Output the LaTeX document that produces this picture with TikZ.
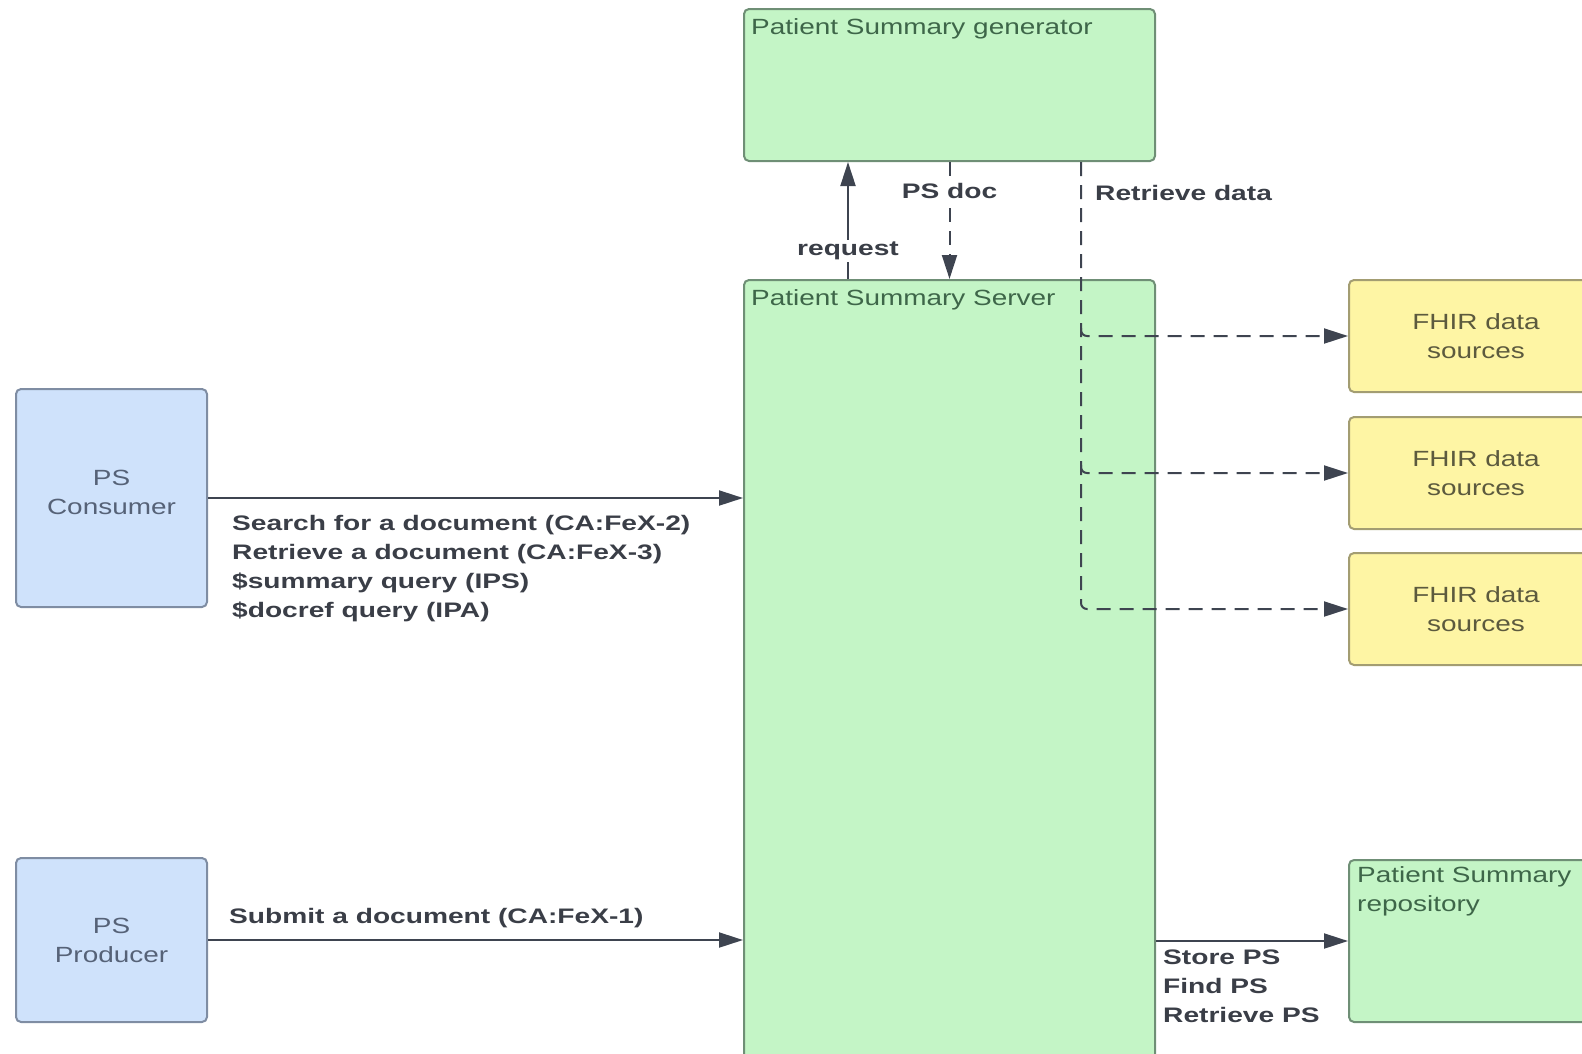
\documentclass[tikz,border=0pt]{standalone}
\usepackage{fontspec}
\usepackage{tikz}
\usetikzlibrary{positioning, arrows.meta, calc}

\newfontfamily\boxfont[FakeStretch=1.27]{Liberation Sans}
\newfontfamily\lblfont[FakeStretch=1.34]{Liberation Sans Bold}

\definecolor{grnfill}{HTML}{C4F5C6}
\definecolor{grnline}{HTML}{6F8F76}
\definecolor{grntext}{HTML}{3E6649}
\definecolor{bluefill}{HTML}{CFE2FB}
\definecolor{blueline}{HTML}{7F8DA3}
\definecolor{bluetext}{HTML}{566277}
\definecolor{yelfill}{HTML}{FEF5A4}
\definecolor{yelline}{HTML}{A39D72}
\definecolor{yeltext}{HTML}{5C5A3E}
\definecolor{arrcol}{HTML}{3E4450}
\definecolor{lblcol}{HTML}{3A3E47}

\tikzset{
  box/.style={rectangle, rounded corners=5pt, line width=2pt, anchor=north west,
    inner sep=0pt, align=center, font=\boxfont\fontsize{22}{29}\selectfont},
  greenbox/.style={box, draw=grnline, fill=grnfill},
  bluebox/.style={box, draw=blueline, fill=bluefill, text=bluetext},
  yelbox/.style={box, draw=yelline, fill=yelfill, text=yeltext},
  ttl/.style={font=\boxfont\fontsize{22}{29}\selectfont, text=grntext, inner sep=0pt, align=left},
  lbl/.style={font=\lblfont\fontsize{21}{29}\selectfont, text=lblcol, inner sep=0pt, align=left},
  arr/.style={line width=2pt, draw=arrcol, -{Triangle[length=24pt,width=15pt]}},
  dasharr/.style={arr, dash pattern=on 14pt off 9pt},
}

\begin{document}
\begin{tikzpicture}[x=1pt,y=-1pt]
  \useasboundingbox (0,0) rectangle (1582,1053);
  \clip (0,0) rectangle (1582,1053);

  % green boxes
  \node[greenbox, minimum width=411pt, minimum height=152pt] (gen) at (743,8) {};
  \node[greenbox, minimum width=411pt, minimum height=800pt] (srv) at (743,279) {};
  \node[greenbox, minimum width=254pt, minimum height=162pt] (repo) at (1348,859) {};
  \node[ttl, anchor=base west] (gentitle) at (751,34) {Patient Summary generator};
  \node[ttl, anchor=base west] (srvtitle) at (751,305) {Patient Summary Server};
  \node[ttl, anchor=north west] (repotitle) at (1357,866) {Patient Summary\\repository};

  % actors
  \node[bluebox, minimum width=191pt, minimum height=218pt] (cons) at (15,388) {};
  \node[text=bluetext, font=\boxfont\fontsize{22}{29}\selectfont, align=center, inner sep=0pt]
    (constxt) at ($(cons.center)+(0,-6)$) {PS\\Consumer};
  \node[bluebox, minimum width=191pt, minimum height=164pt] (prod) at (15,857) {PS\\Producer};

  % data sources
  \node[yelbox, minimum width=254pt, minimum height=112pt] (fhirA) at (1348,279) {FHIR data\\sources};
  \node[yelbox, minimum width=254pt, minimum height=112pt] (fhirB) at (1348,416) {FHIR data\\sources};
  \node[yelbox, minimum width=254pt, minimum height=112pt] (fhirC) at (1348,552) {FHIR data\\sources};

  % server <-> generator
  \draw[arr] ($(srv.north west)+(105,0)$) --
    node[lbl, fill=white, inner sep=2pt, pos=0.24] (reqlbl) {request}
    ($(gen.south west)+(105,0)$);
  \draw[dasharr] (gen.south) --
    node[lbl, fill=white, inner sep=2pt, pos=0.25] (doclbl) {PS doc}
    (srv.north);

  % retrieve data
  \coordinate (trunk) at ($(gen.south west)+(338,0)$);
  \draw[dasharr, rounded corners=6pt] (trunk) |- (fhirC.west);
  \draw[dasharr, rounded corners=6pt] ($(trunk |- fhirA.west)+(0,-8)$) |- (fhirA.west);
  \draw[dasharr, rounded corners=6pt] ($(trunk |- fhirB.west)+(0,-8)$) |- (fhirB.west);
  \node[lbl, anchor=west] (retlbl) at (1095,193) {Retrieve data};

  % consumer / producer
  \draw[arr] (cons.east) -- (cons.east -| srv.west);
  \node[lbl, anchor=north west] (conslbl) at (232,515)
    {Search for a document (CA:FeX-2)\\Retrieve a document (CA:FeX-3)\\\$summary query (IPS)\\\$docref query (IPA)};
  \draw[arr] (prod.east) -- (prod.east -| srv.west);
  \node[lbl, anchor=base west] (prodlbl) at (229,923) {Submit a document (CA:FeX-1)};

  % repository
  \draw[arr] (srv.east |- repo.west) -- (repo.west);
  \node[lbl, anchor=north west] (repolbl) at (1163,950) {Store PS\\Find PS\\Retrieve PS};
\end{tikzpicture}
\end{document}
